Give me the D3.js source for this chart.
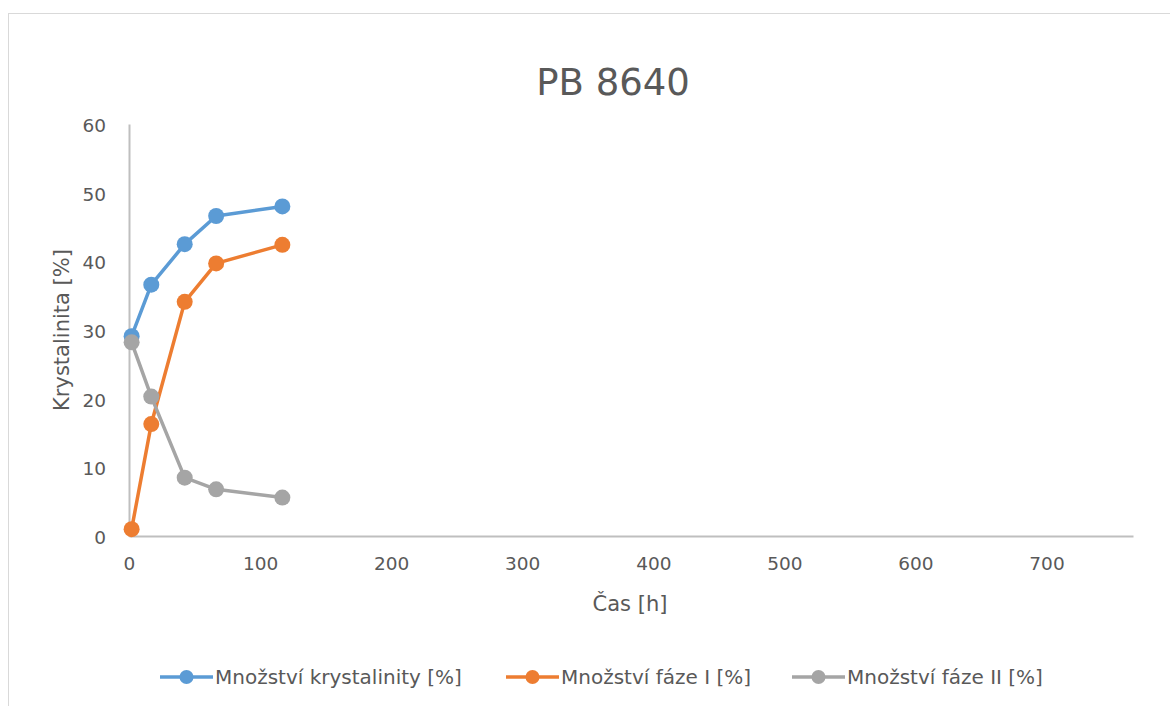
<!DOCTYPE html>
<html>
<head>
<meta charset="utf-8">
<script src="https://cdn.jsdelivr.net/npm/d3@7"></script>
<style>
  body { margin: 0; background: #fff; }
  text { font-family: "DejaVu Sans", "Open Sans", sans-serif; fill: #595959; }
</style>
</head>
<body>
<div id="chart"></div>
<script>
// data
const hours = [2, 17, 42.5, 66.5, 117];
const krystalinity = [29.1, 36.6, 42.5, 46.6, 48.0];
const fazeI = [1.0, 16.3, 34.1, 39.7, 42.4];
const fazeII = [28.2, 20.3, 8.5, 6.8, 5.6];
const seriesNames = ['Množství krystalinity [%]', 'Množství fáze I [%]', 'Množství fáze II [%]'];
const seriesColors = ['#5b9bd5', '#ed7d31', '#a5a5a5'];
const xTicks = [0, 100, 200, 300, 400, 500, 600, 700];
const yTicks = [0, 10, 20, 30, 40, 50, 60];

const width = 1170, height = 706;
const margin = {top: 124, right: 37, bottom: 170, left: 129};
const innerW = width - margin.left - margin.right;
const innerH = height - margin.top - margin.bottom;

const svg = d3.select('#chart').append('svg')
  .attr('width', width)
  .attr('height', height);

// chart frame
svg.append('rect')
  .attr('x', 8.5).attr('y', 13.5)
  .attr('width', 1180).attr('height', 720)
  .attr('fill', 'none')
  .attr('stroke', '#d9d9d9')
  .attr('stroke-width', 1);

const xScale = d3.scaleLinear().domain([0, 766]).range([0, innerW]);
const yScale = d3.scaleLinear().domain([0, 60]).range([innerH, 0]);

const g = svg.append('g')
  .attr('transform', `translate(${margin.left},${margin.top})`);

// axes, no tick marks, light grey lines
const xAxis = d3.axisBottom(xScale).tickValues(xTicks).tickSize(0).tickPadding(21);
const yAxis = d3.axisLeft(yScale).tickValues(yTicks).tickSize(0).tickPadding(23);

const xAxisG = g.append('g').attr('transform', `translate(0,${innerH})`).call(xAxis);
const yAxisG = g.append('g').call(yAxis);
[xAxisG, yAxisG].forEach(a => {
  a.select('.domain').attr('stroke', '#bfbfbf').attr('stroke-width', 2);
  a.selectAll('text').attr('font-size', 18.5).style('fill', '#595959')
    .attr('font-family', '"DejaVu Sans", sans-serif');
});
yAxisG.selectAll('text').attr('dy', '0.4em');

// series
const series = [krystalinity, fazeI, fazeII].map((vals, i) => ({
  name: seriesNames[i],
  color: seriesColors[i],
  points: vals.map((v, j) => ({x: hours[j], y: v}))
}));

const line = d3.line().x(d => xScale(d.x)).y(d => yScale(d.y));

const sg = g.selectAll('.series')
  .data(series)
  .join('g')
  .attr('class', 'series');

sg.append('path')
  .attr('d', d => line(d.points))
  .attr('fill', 'none')
  .attr('stroke', d => d.color)
  .attr('stroke-width', 3.5)
  .attr('stroke-linejoin', 'round');

sg.selectAll('circle')
  .data(d => d.points.map(p => ({...p, color: d.color})))
  .join('circle')
  .attr('cx', d => xScale(d.x))
  .attr('cy', d => yScale(d.y))
  .attr('r', 8)
  .attr('fill', d => d.color);

// title
svg.append('text')
  .attr('x', 613).attr('y', 94.5)
  .attr('text-anchor', 'middle')
  .attr('font-size', 37)
  .text('PB 8640');

// axis titles
svg.append('text')
  .attr('x', 630).attr('y', 611)
  .attr('text-anchor', 'middle')
  .attr('font-size', 21)
  .text('Čas [h]');

svg.append('text')
  .attr('transform', 'translate(69,330) rotate(-90)')
  .attr('text-anchor', 'middle')
  .attr('font-size', 21)
  .text('Krystalinita [%]');

// legend
const legendX = [160, 506, 792];
const lg = svg.selectAll('.legend')
  .data(series)
  .join('g')
  .attr('class', 'legend')
  .attr('transform', (d, i) => `translate(${legendX[i]},677)`);

lg.append('line')
  .attr('x1', 0).attr('x2', 53)
  .attr('stroke', d => d.color)
  .attr('stroke-width', 3.5);
lg.append('circle')
  .attr('cx', 26.5).attr('r', 7)
  .attr('fill', d => d.color);
lg.append('text')
  .attr('x', 55).attr('y', 7)
  .attr('font-size', 20)
  .text(d => d.name);
</script>
</body>
</html>
